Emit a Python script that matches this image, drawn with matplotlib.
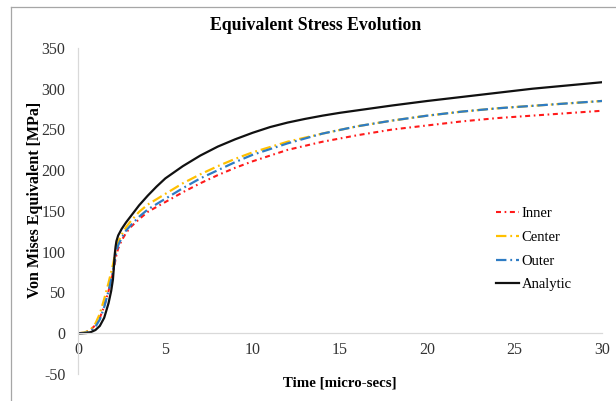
import matplotlib
matplotlib.use("Agg")
import matplotlib.pyplot as plt
from matplotlib.lines import Line2D

plt.rcParams['font.family'] = ['Liberation Serif', 'DejaVu Serif']
plt.rcParams['lines.scale_dashes'] = False

# ---- data ----
t_analytic = [0, 0.25, 0.5, 0.75, 1.0, 1.25, 1.5, 1.75, 1.9, 2.0, 2.05, 2.1, 2.15, 2.2, 2.3, 2.5,
              2.75, 3.0, 3.5, 4.0, 4.5, 5, 6, 7, 8, 9, 10, 11, 12, 13, 14, 15, 16, 18, 20, 22,
              24, 26, 28, 30]
v_analytic = [0, 0, 0.3, 1.5, 4, 9, 19, 37, 52, 66, 80, 96, 106, 113, 120, 128,
              136, 143, 157, 169, 180, 190, 205, 218, 229, 238, 246, 253, 258.5, 263, 267, 270.5, 273.5, 279.5, 285, 290,
              295, 300, 304, 308]

t_sim = [0, 0.25, 0.5, 0.75, 1.0, 1.25, 1.5, 1.75, 2.0, 2.1, 2.2, 2.3, 2.5, 2.75, 3.0, 3.5, 4, 5,
         6, 7, 8, 9, 10, 12, 14, 16, 18, 20, 22, 24, 26, 28, 30]
v_inner = [0, 0.5, 2, 5, 10, 19, 33, 52, 74, 85, 96, 104, 114, 123, 130, 140, 149, 161,
           173, 184, 194, 203, 211, 225, 235, 243, 250, 255, 260, 264, 267, 270, 273]
v_center = [0, 0.5, 2, 5, 12, 24, 42, 62, 84, 95, 105, 112, 121, 130, 137, 149, 158, 171,
            184, 195, 205, 214, 222, 235, 245, 254, 261, 267, 272, 276, 279, 282, 285]
v_outer = [0, 0.3, 1, 3, 8, 17, 32, 52, 75, 88, 100, 108, 117, 126, 132, 143, 152, 165,
           178, 190, 200, 210, 219, 233, 245, 254, 261, 267, 272, 276, 279, 282, 285]

series_labels = ['Inner', 'Center', 'Outer', 'Analytic']
x_ticks = [0, 5, 10, 15, 20, 25, 30]
y_ticks = [-50, 0, 50, 100, 150, 200, 250, 300, 350]

W, H = 616, 401
fig = plt.figure(figsize=(W / 100, H / 100), dpi=100)
ax = fig.add_axes([78 / W, 1 - 374 / H, (602 - 78) / W, (374 - 48) / H])

ax.plot(t_sim, v_inner, color='#FF1A1A', lw=1.5, dashes=(3.6, 2.6, 1.2, 2.6), label=series_labels[0])
ax.plot(t_sim, v_center, color='#FFC000', lw=1.6, dashes=(7.5, 2.8, 1.3, 2.8), label=series_labels[1])
ax.plot(t_sim, v_outer, color='#2E7CC4', lw=1.6, dashes=(7.5, 2.8, 1.3, 2.8), label=series_labels[2])
ax.plot(t_analytic, v_analytic, color='#111111', lw=1.6, label=series_labels[3])

ax.set_xlim(0, 30)
ax.set_ylim(-50, 350)
ax.set_xticks(x_ticks)
ax.set_yticks(y_ticks)
ax.set_xticklabels([str(v) for v in x_ticks])
ax.set_yticklabels([str(v) for v in y_ticks])

for s in ['top', 'right']:
    ax.spines[s].set_visible(False)
ax.spines['left'].set_color('#D9D9D9')
ax.spines['left'].set_linewidth(0.9)
ax.spines['bottom'].set_position(('data', 0))
ax.spines['bottom'].set_color('#D9D9D9')
ax.spines['bottom'].set_linewidth(0.9)
ax.tick_params(axis='both', length=0, labelsize=11.5, colors='#333333')
ax.tick_params(axis='y', pad=9)
ax.tick_params(axis='x', pad=6)

fig.text(316 / W, 1 - 25 / H, 'Equivalent Stress Evolution', fontsize=12.8, fontweight='bold',
         ha='center', va='center')
fig.text(340 / W, 1 - 383 / H, 'Time [micro-secs]', fontsize=10.7, fontweight='bold',
         ha='center', va='center')
fig.text(35 / W, 1 - 200 / H, 'Von Mises Equivalent [MPa]', fontsize=11.5, fontweight='bold',
         ha='center', va='center', rotation=90)

leg = ax.legend(loc='upper left', bbox_to_anchor=(483 / W, 1 - 194 / H),
                bbox_transform=fig.transFigure, frameon=False, fontsize=10.5,
                handlelength=1.6, handletextpad=0.15, labelspacing=0.72)

# figure frame (top and left edges visible)
fig.add_artist(Line2D([11 / W, 11 / W], [0, 1 - 7 / H], transform=fig.transFigure,
                      color='#A6A6A6', lw=0.9))
fig.add_artist(Line2D([11 / W, 1], [1 - 7 / H, 1 - 7 / H], transform=fig.transFigure,
                      color='#A6A6A6', lw=0.9))

fig.savefig('out.png', dpi=100)
